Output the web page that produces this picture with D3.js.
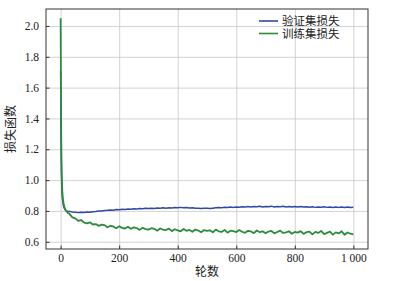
<!DOCTYPE html>
<meta charset="utf-8">
<style>
  body { margin: 0; background: #fff; }
  .grid line { stroke: #c8c8cc; stroke-width: 0.8; }
  .grid .domain { stroke: none; }
  .axis text { font-family: "Liberation Serif", serif; font-size: 11.5px; fill: #222; }
  .axis line { stroke: #333; }
  .axis .domain { stroke: none; }
  .cjk { font-family: "Noto Sans CJK SC", sans-serif; font-size: 12px; fill: #222; }
  .legend text { font-size: 11.5px; }
</style>
<body>
<script src="https://cdn.jsdelivr.net/npm/d3@7"></script>
<script>
  var epochs = [0, 1, 2, 3, 4, 5, 6, 8, 10, 13, 16, 20, 25,
    30, 40, 50, 60, 70, 80, 90, 100, 110, 120, 130, 140, 150, 160, 170, 180, 190,
    200, 210, 220, 230, 240, 250, 260, 270, 280, 290, 300, 310, 320, 330, 340, 350,
    360, 370, 380, 390, 400, 410, 420, 430, 440, 450, 460, 470, 480, 490, 500, 510,
    520, 530, 540, 550, 560, 570, 580, 590, 600, 610, 620, 630, 640, 650, 660, 670,
    680, 690, 700, 710, 720, 730, 740, 750, 760, 770, 780, 790, 800, 810, 820, 830,
    840, 850, 860, 870, 880, 890, 900, 910, 920, 930, 940, 950, 960, 970, 980, 990, 1000];

  // 验证集损失
  var valLoss = [1.71, 1.38, 1.16, 1.03, 0.95, 0.91, 0.88, 0.85, 0.83, 0.815, 0.806, 0.800, 0.798,
    0.797, 0.793, 0.791, 0.789, 0.791, 0.790, 0.793, 0.792, 0.795, 0.796, 0.799, 0.800, 0.803, 0.804, 0.806, 0.805, 0.809,
    0.808, 0.811, 0.810, 0.813, 0.811, 0.814, 0.812, 0.815, 0.814, 0.817, 0.815, 0.818, 0.816, 0.819, 0.817, 0.820,
    0.818, 0.821, 0.819, 0.822, 0.820, 0.823, 0.820, 0.822, 0.819, 0.821, 0.818, 0.817, 0.816, 0.818, 0.817, 0.815,
    0.818, 0.820, 0.822, 0.821, 0.824, 0.822, 0.825, 0.823, 0.826, 0.824, 0.827, 0.825, 0.828, 0.826, 0.829, 0.827,
    0.830, 0.826, 0.829, 0.827, 0.831, 0.826, 0.829, 0.827, 0.830, 0.826, 0.828, 0.825, 0.828, 0.826, 0.829, 0.825,
    0.827, 0.824, 0.827, 0.823, 0.826, 0.824, 0.827, 0.823, 0.826, 0.822, 0.825, 0.823, 0.826, 0.822, 0.825, 0.823, 0.824];

  // 训练集损失
  var trainLoss = [2.05, 1.62, 1.30, 1.12, 1.02, 0.96, 0.92, 0.875, 0.85, 0.825, 0.81, 0.797, 0.787,
    0.781, 0.758, 0.752, 0.735, 0.741, 0.724, 0.719, 0.726, 0.712, 0.715, 0.703, 0.711, 0.708, 0.694, 0.703, 0.699, 0.688,
    0.701, 0.690, 0.686, 0.697, 0.684, 0.693, 0.689, 0.677, 0.691, 0.682, 0.679, 0.688, 0.684, 0.672, 0.686, 0.679,
    0.676, 0.685, 0.669, 0.681, 0.674, 0.668, 0.683, 0.671, 0.677, 0.665, 0.679, 0.673, 0.662, 0.676, 0.670, 0.674,
    0.661, 0.679, 0.668, 0.664, 0.677, 0.659, 0.672, 0.669, 0.663, 0.676, 0.665, 0.658, 0.671, 0.667, 0.656, 0.673,
    0.662, 0.668, 0.655, 0.666, 0.670, 0.654, 0.663, 0.672, 0.657, 0.661, 0.668, 0.652, 0.664, 0.659, 0.669, 0.651,
    0.662, 0.666, 0.648, 0.664, 0.657, 0.670, 0.650, 0.658, 0.666, 0.646, 0.661, 0.654, 0.668, 0.645, 0.660, 0.652, 0.648];

  var xTicks = [0, 200, 400, 600, 800, 1000];
  var yTicks = [0.6, 0.8, 1.0, 1.2, 1.4, 1.6, 1.8, 2.0];
  var seriesNames = ["验证集损失", "训练集损失"];
  var colors = ["#3247a6", "#2e8b3e"];

  var margin = {top: 9, right: 28, bottom: 32, left: 46},
    width = 396 - margin.left - margin.right,
    height = 281 - margin.top - margin.bottom;

  var x = d3.scaleLinear().domain([-50, 1050]).range([0, width]);
  var y = d3.scaleLinear().domain([0.553, 2.11]).range([height, 0]);

  var svg = d3.select("body").append("svg")
    .attr("width", 396)
    .attr("height", 281)
    .append("g")
    .attr("transform", "translate(" + margin.left + "," + margin.top + ")");

  // grid
  svg.append("g").attr("class", "grid")
    .attr("transform", "translate(0," + height + ")")
    .call(d3.axisBottom(x).tickValues(xTicks).tickSize(-height).tickFormat(""));
  svg.append("g").attr("class", "grid")
    .call(d3.axisLeft(y).tickValues(yTicks).tickSize(-width).tickFormat(""));

  var line = d3.line()
    .x(function (d) { return x(d[0]); })
    .y(function (d) { return y(d[1]); });

  [valLoss, trainLoss].forEach(function (vals, i) {
    svg.append("path")
      .datum(epochs.map(function (e, j) { return [e, vals[j]]; }))
      .attr("fill", "none")
      .attr("stroke", colors[i])
      .attr("stroke-width", i ? 1.8 : 1.5)
      .attr("stroke-linejoin", "round")
      .attr("d", line);
  });

  // axes, ticks point inward
  svg.append("g").attr("class", "axis")
    .attr("transform", "translate(0," + height + ")")
    .call(d3.axisBottom(x).tickValues(xTicks).tickSizeInner(-3.5).tickSizeOuter(0).tickPadding(5)
      .tickFormat(function (d) { return d === 1000 ? "1 000" : d; }));
  svg.append("g").attr("class", "axis")
    .call(d3.axisLeft(y).tickValues(yTicks).tickSizeInner(-3.5).tickSizeOuter(0).tickPadding(7)
      .tickFormat(d3.format(".1f")));

  svg.append("rect")
    .attr("width", width).attr("height", height)
    .attr("fill", "none").attr("stroke", "#333").attr("stroke-width", 1);

  svg.append("text").attr("class", "cjk")
    .attr("x", width / 2).attr("y", height + 27)
    .attr("text-anchor", "middle").text("轮数");
  svg.append("text").attr("class", "cjk")
    .attr("transform", "translate(-31," + (height / 2) + ") rotate(-90)")
    .attr("text-anchor", "middle").text("损失函数");

  // legend
  var legend = svg.append("g").attr("class", "legend").attr("transform", "translate(213,12)");
  seriesNames.forEach(function (name, i) {
    legend.append("line")
      .attr("x1", 0).attr("x2", 19)
      .attr("y1", i * 12.5).attr("y2", i * 12.5)
      .attr("stroke", colors[i]).attr("stroke-width", 1.6);
    legend.append("text").attr("class", "cjk")
      .attr("x", 23).attr("y", i * 12.5 + 4.2)
      .text(name);
  });
</script>
</body>
